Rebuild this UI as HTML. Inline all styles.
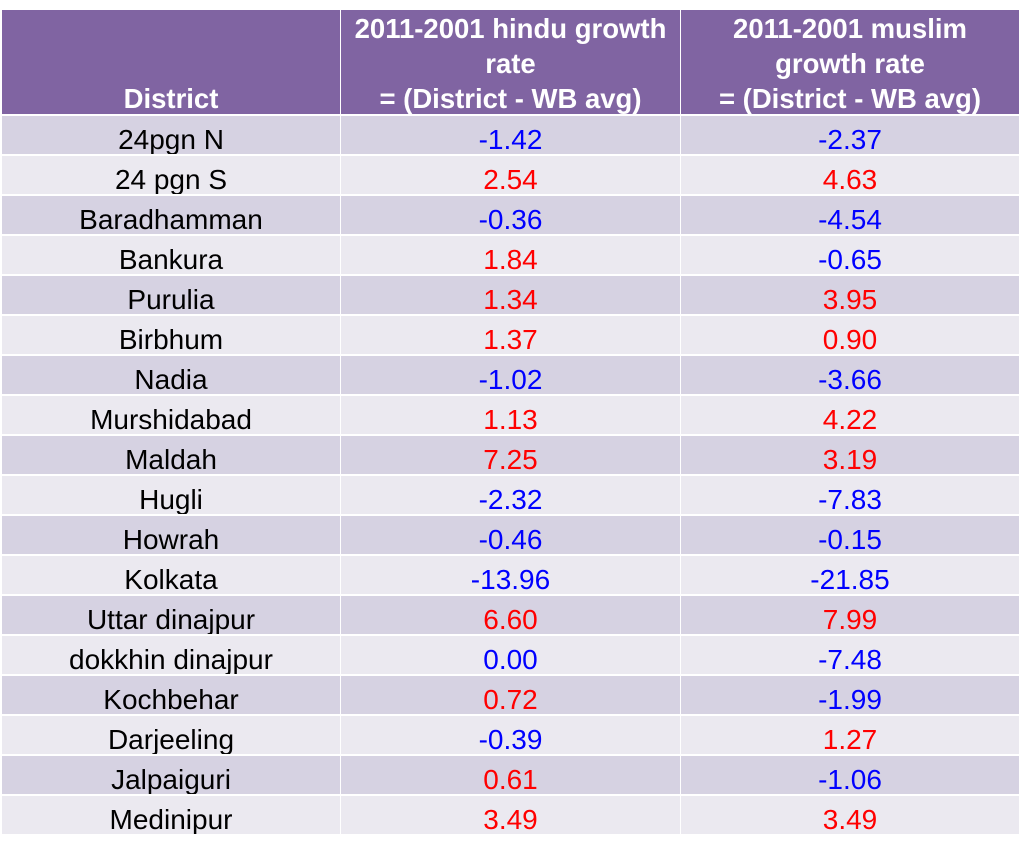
<!DOCTYPE html>
<html><head><style>
body{margin:0;width:1024px;height:853px;background:#fff;font-family:"Liberation Sans",sans-serif;position:relative;overflow:hidden}
.c{position:absolute;box-sizing:border-box;text-align:center;font-size:28px}
.h{background:#8064a2;color:#fff;font-weight:bold;font-size:27.5px;line-height:35px;display:flex;align-items:flex-end;justify-content:center;padding:0 4px;overflow:hidden}
.h span{position:relative;top:2px}
.r{line-height:47px;color:#000}
.b{color:#0000ff}.d{color:#ff0000}
</style></head><body>
<div class="c h" style="left:2px;top:10px;width:338px;height:104px"><span>District</span></div>
<div class="c h" style="left:341px;top:10px;width:339px;height:104px"><span>2011-2001 hindu growth rate<br>= (District - WB avg)</span></div>
<div class="c h" style="left:681px;top:10px;width:338px;height:104px"><span>2011-2001 muslim growth rate<br>= (District - WB avg)</span></div>
<div id="t"></div>
<script>
var d=[["24pgn N","-1.42","-2.37"],["24 pgn S","2.54","4.63"],["Baradhamman","-0.36","-4.54"],["Bankura","1.84","-0.65"],["Purulia","1.34","3.95"],["Birbhum","1.37","0.90"],["Nadia","-1.02","-3.66"],["Murshidabad","1.13","4.22"],["Maldah","7.25","3.19"],["Hugli","-2.32","-7.83"],["Howrah","-0.46","-0.15"],["Kolkata","-13.96","-21.85"],["Uttar dinajpur","6.60","7.99"],["dokkhin dinajpur","0.00","-7.48"],["Kochbehar","0.72","-1.99"],["Darjeeling","-0.39","1.27"],["Jalpaiguri","0.61","-1.06"],["Medinipur","3.49","3.49"]];
var h="",L=[[2,338],[341,339],[681,338]];
d.forEach(function(r,i){var y=116+i*40,bg=i%2?"#ebe9f0":"#d6d2e2";
for(var j=0;j<3;j++){var cl=j==0?"":(r[j][0]=="-"||r[j]=="0.00"?"b":"d");
h+='<div class="c r '+cl+'" style="left:'+L[j][0]+'px;top:'+y+'px;width:'+L[j][1]+'px;height:38px;overflow:hidden;background:'+bg+'">'+r[j]+'</div>';}});
document.getElementById("t").innerHTML=h;
</script>
</body></html>
